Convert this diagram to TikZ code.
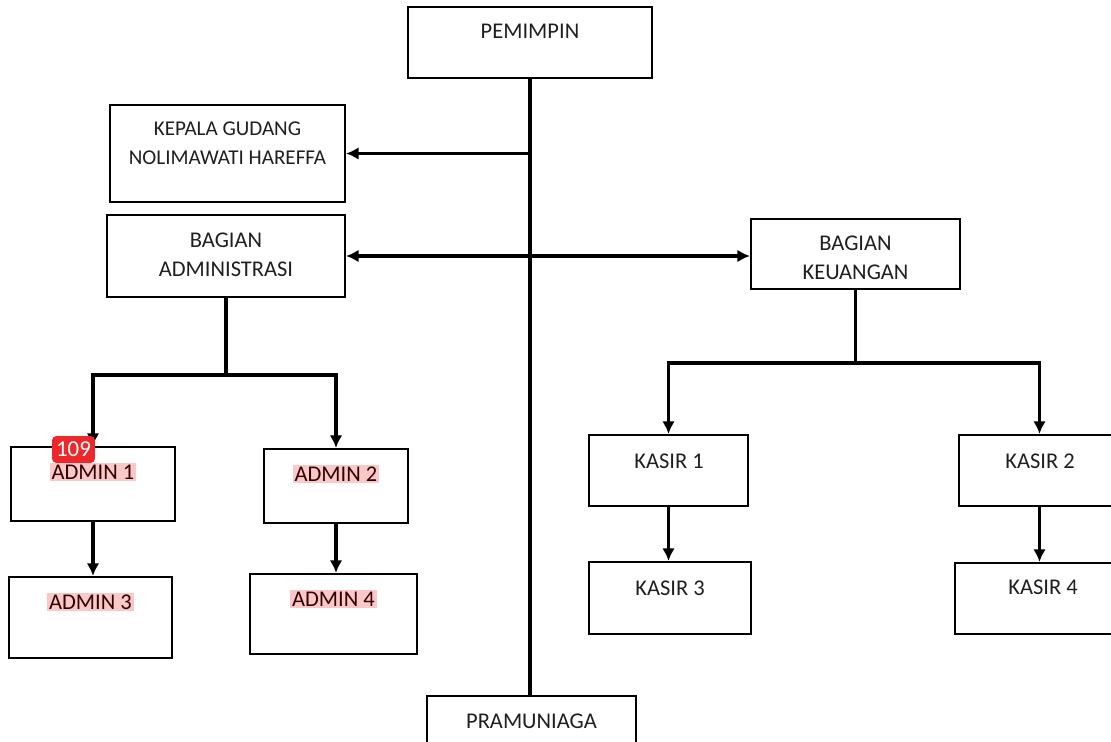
\documentclass[tikz,border=0pt]{standalone}
\usepackage{fontspec}
\setmainfont{Carlito}
\usetikzlibrary{positioning,arrows.meta}

\definecolor{hilite}{RGB}{250,200,200}
\definecolor{badgered}{RGB}{238,40,42}

\begin{document}
\begin{tikzpicture}[x=0.02cm,y=-0.02cm,
	box/.style={draw=black,line width=1.2pt,minimum width=#1},
	txt/.style={align=center,inner sep=1pt,text=black!88,font=\fontsize{12.8}{16.5}\selectfont},
	hltxt/.style={txt,fill=hilite,text=black!80!red},
	line/.style={line width=1.8pt},
	arr/.style={line width=1.8pt,-{Latex[length=0.25cm,width=0.25cm]}}]
	\useasboundingbox (0,0) rectangle (1111,742);
	
	%boxes: top row
	\node[box=4.88cm,minimum height=1.42cm] (pem) at (530,42.5) {};
	\node[txt] (tpem) at (530,31) {PEMIMPIN};
	\node[box=4.7cm,minimum height=1.94cm] (kep) at (227.5,153.5) {};
	\node[txt,font=\fontsize{12}{16.5}\selectfont] (tkep) at (227.5,143) {KEPALA GUDANG\\NOLIMAWATI HAREFFA};
	\node[box=4.76cm,minimum height=1.64cm] (adm) at (226,256) {};
	\node[txt] (tadm) at (226,255) {BAGIAN\\ADMINISTRASI};
	\node[box=4.18cm,minimum height=1.4cm] (keu) at (855.5,254) {};
	\node[txt] (tkeu) at (855.5,258) {BAGIAN\\KEUANGAN};
	
	%admin side
	\node[box=3.28cm,minimum height=1.48cm] (a1) at (93,484) {};
	\node[hltxt] (ta1) at (93,472) {ADMIN 1};
	\node[box=2.88cm,minimum height=1.48cm] (a2) at (336,486) {};
	\node[hltxt] (ta2) at (336,474) {ADMIN 2};
	\node[box=3.26cm,minimum height=1.62cm] (a3) at (90.5,617.5) {};
	\node[hltxt] (ta3) at (90.5,602) {ADMIN 3};
	\node[box=3.34cm,minimum height=1.6cm] (a4) at (333.5,614) {};
	\node[hltxt] (ta4) at (333.5,599) {ADMIN 4};
	
	%kasir side
	\node[box=3.18cm,minimum height=1.42cm] (k1) at (668.5,470.5) {};
	\node[txt] (tk1) at (669,461) {KASIR 1};
	\node[box=3.22cm,minimum height=1.42cm] (k2) at (1039.5,470.5) {};
	\node[txt] (tk2) at (1040,461) {KASIR 2};
	\node[box=3.24cm,minimum height=1.44cm] (k3) at (670,598) {};
	\node[txt] (tk3) at (670,588) {KASIR 3};
	\node[box=3.3cm,minimum height=1.42cm] (k4) at (1037.5,598.5) {};
	\node[txt] (tk4) at (1043,587) {KASIR 4};
	
	\node[box=4.18cm,minimum height=1.08cm] (pram) at (531.5,723) {};
	\node[txt] (tpram) at (531.5,721) {PRAMUNIAGA};
	
	%connectors
	\draw[line] (pem.south) -- (pem.south |- pram.north);
	\draw[arr] (pem.south |- kep.east) -- (kep.east);
	\draw[arr,{Latex[length=0.25cm,width=0.25cm]}-{Latex[length=0.25cm,width=0.25cm]}] (adm.east) -- (adm.east -| keu.west);
	
	\draw[line] (adm.south) -- ++(0,77) coordinate (admfork);
	\draw[arr] (admfork) -| (a1.north);
	\draw[arr] (admfork) -| (a2.north);
	\draw[arr] (a1.south) -- (a1.south |- a3.north);
	\draw[arr] (a2.south) -- (a2.south |- a4.north);
	
	\draw[line] (keu.south) -- ++(0,73) coordinate (keufork);
	\draw[arr] (keufork) -| (k1.north);
	\draw[arr] (keufork) -| (k2.north);
	\draw[arr] (k1.south) -- (k1.south |- k3.north);
	\draw[arr] (k2.south) -- (k2.south |- k4.north);
	
	%page counter badge
	\node[fill=badgered,rounded corners=2.5pt,minimum width=0.86cm,minimum height=0.54cm,
		text=white,font=\fontsize{13}{15}\selectfont,inner sep=1pt] (badge) at (73.5,449.5) {109};
\end{tikzpicture}
\end{document}
